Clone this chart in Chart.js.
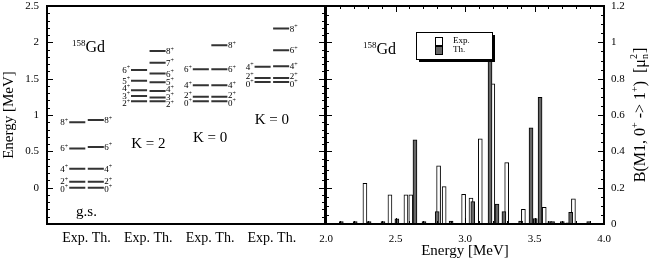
<!DOCTYPE html>
<html>
<head>
<meta charset="utf-8">
<script src="https://cdn.jsdelivr.net/npm/chart.js@4/dist/chart.umd.min.js"></script>
<style>
  html, body { margin: 0; padding: 0; background: #fff; }
  #wrap { position: relative; width: 651px; height: 260px; }
  canvas { position: absolute; top: 0; }
  #levels { left: 0; }
  #strength { left: 312px; }
</style>
</head>
<body>
<div id="wrap">
  <canvas id="levels" width="330" height="260"></canvas>
  <canvas id="strength" width="339" height="260"></canvas>
</div>
<script>
// 158Gd level scheme, energies in MeV
const bandLabels = ["g.s.", "K = 2", "K = 0", "K = 0"];
const gsSpins = [0, 2, 4, 6, 8];
const gsExp = [0, 0.08, 0.26, 0.54, 0.9];
const gsTh = [0, 0.08, 0.26, 0.56, 0.93];
const k2ExpSpins = [2, 3, 4, 5, 6];
const k2Exp = [1.19, 1.26, 1.34, 1.47, 1.62];
const k2ThSpins = [2, 3, 4, 5, 6, 7, 8];
const k2Th = [1.19, 1.24, 1.33, 1.45, 1.57, 1.72, 1.88];
const k0aExpSpins = [0, 2, 4, 6];
const k0aExp = [1.19, 1.25, 1.41, 1.63];
const k0aThSpins = [0, 2, 4, 6, 8];
const k0aTh = [1.19, 1.25, 1.41, 1.63, 1.96];
const k0bExpSpins = [0, 2, 4];
const k0bExp = [1.455, 1.51, 1.665];
const k0bThSpins = [0, 2, 4, 6, 8];
const k0bTh = [1.455, 1.51, 1.67, 1.89, 2.19];
const columnLabel = "Exp. Th.";

// M1 strength 0+ -> 1+, energy in MeV, B(M1) in mu_N^2
const expEnergy = [2.28, 2.46, 2.575, 2.61, 2.81, 2.85, 2.99, 3.043, 3.11, 3.20, 3.30, 3.42, 3.57, 3.78];
const expBM1 = [0.224, 0.16, 0.16, 0.16, 0.32, 0.206, 0.164, 0.142, 0.469, 0.772, 0.338, 0.081, 0.092, 0.138];
const thEnergy = [2.11, 2.21, 2.31, 2.41, 2.51, 2.64, 2.705, 2.80, 2.90, 3.056, 3.18, 3.23, 3.28, 3.40, 3.475, 3.505, 3.54, 3.61, 3.63, 3.70, 3.74, 3.76, 3.89];
const thBM1 = [0.013, 0.013, 0.013, 0.013, 0.028, 0.463, 0.013, 0.068, 0.016, 0.123, 1.018, 0.11, 0.068, 0.016, 0.53, 0.03, 0.697, 0.013, 0.013, 0.013, 0.006, 0.064, 0.013];

const bands = [
  { exp: gsExp, expSpins: gsSpins, th: gsTh, thSpins: gsSpins },
  { exp: k2Exp, expSpins: k2ExpSpins, th: k2Th, thSpins: k2ThSpins },
  { exp: k0aExp, expSpins: k0aExpSpins, th: k0aTh, thSpins: k0aThSpins },
  { exp: k0bExp, expSpins: k0bExpSpins, th: k0bTh, thSpins: k0bThSpins },
];

const SERIF = "'Liberation Serif', 'DejaVu Serif', serif";
const HALF = 0.28, GAP = 0.02; // level line span around each band centre

Chart.defaults.font.family = SERIF;
Chart.defaults.color = "#000";

// one line dataset, null points split it into separate levels
const levelPoints = [];
bands.forEach((b, i) => {
  b.exp.forEach(e => levelPoints.push({ x: i - HALF, y: e }, { x: i - GAP, y: e }, { x: i - GAP, y: null }));
  b.th.forEach(e => levelPoints.push({ x: i + GAP, y: e }, { x: i + HALF, y: e }, { x: i + HALF, y: null }));
});

// inward ticks on the frame + thick box
const frameTicks = {
  id: "frameTicks",
  afterDraw(chart, args, opts) {
    const { ctx, chartArea: a } = chart;
    ctx.save();
    ctx.strokeStyle = "#000";
    ctx.lineWidth = 1;
    for (const t of opts.axes) {
      const s = chart.scales[t.id];
      const n = Math.round((s.max - s.min) / t.minor);
      for (let i = 0; i <= n; i++) {
        const v = s.min + i * t.minor;
        const r = v / t.major;
        const len = Math.abs(r - Math.round(r)) < 1e-6 ? 6 : 3;
        const p = Math.round(s.getPixelForValue(v)) + 0.5;
        ctx.beginPath();
        if (s.isHorizontal()) {
          ctx.moveTo(p, a.bottom); ctx.lineTo(p, a.bottom - len);
          ctx.moveTo(p, a.top); ctx.lineTo(p, a.top + len);
        } else {
          ctx.moveTo(a.left, p); ctx.lineTo(a.left + len, p);
          ctx.moveTo(a.right, p); ctx.lineTo(a.right - len, p);
        }
        ctx.stroke();
      }
    }
    ctx.lineWidth = 2;
    ctx.strokeRect(a.left, a.top, a.right - a.left, a.bottom - a.top);
    ctx.restore();
  }
};

// text with superscript "+"
function spinWidth(ctx, spin) {
  ctx.font = "9px " + SERIF;
  const w1 = ctx.measureText(String(spin)).width;
  ctx.font = "6px " + SERIF;
  return w1 + ctx.measureText("+").width;
}
function drawSpin(ctx, spin, x, y) {
  ctx.textBaseline = "alphabetic";
  ctx.textAlign = "left";
  ctx.font = "9px " + SERIF;
  ctx.fillText(String(spin), x, y + 3);
  const w = ctx.measureText(String(spin)).width;
  ctx.font = "6px " + SERIF;
  ctx.fillText("+", x + w, y - 0.5);
}
function spread(ys, gap) {
  const p = ys.slice();
  for (let it = 0; it < 200; it++) {
    let moved = false;
    for (let i = 1; i < p.length; i++) {
      const d = p[i - 1] - p[i];
      if (d < gap - 0.01) { const s = (gap - d) / 2; p[i - 1] += s; p[i] -= s; moved = true; }
    }
    if (!moved) break;
  }
  return p;
}
function drawNucleus(ctx, x, y) {
  ctx.textAlign = "left";
  ctx.textBaseline = "alphabetic";
  ctx.font = "9px " + SERIF;
  ctx.fillText("158", x, y - 6);
  const w = ctx.measureText("158").width;
  ctx.font = "16px " + SERIF;
  ctx.fillText("Gd", x + w, y);
}

const levelText = {
  id: "levelText",
  afterDatasetsDraw(chart) {
    const { ctx, scales: { x, y } } = chart;
    ctx.save();
    ctx.fillStyle = "#000";
    bands.forEach((b, i) => {
      const ey = spread(b.exp.map(e => y.getPixelForValue(e)), 7.5);
      b.expSpins.forEach((s, k) => {
        const xe = x.getPixelForValue(i - HALF) - 1;
        drawSpin(ctx, s, xe - spinWidth(ctx, s), ey[k]);
      });
      const ty = spread(b.th.map(e => y.getPixelForValue(e)), 7.5);
      b.thSpins.forEach((s, k) => {
        drawSpin(ctx, s, x.getPixelForValue(i + HALF) + 0.5, ty[k]);
      });
    });
    // band names
    const nameE = [-0.33, 0.6, 0.68, 0.93];
    ctx.font = "15px " + SERIF;
    ctx.textAlign = "center";
    ctx.textBaseline = "middle";
    bandLabels.forEach((t, i) => ctx.fillText(t, x.getPixelForValue(i), y.getPixelForValue(nameE[i])));
    drawNucleus(ctx, chart.chartArea.left + 25, chart.chartArea.top + 46);
    ctx.restore();
  }
};

const noMargins = s => { s.paddingLeft = 0; s.paddingRight = 0; s.paddingTop = 0; s.paddingBottom = 0; };

new Chart(document.getElementById("levels"), {
  type: "line",
  data: {
    datasets: [{
      data: levelPoints,
      borderColor: "#333",
      borderWidth: 2,
      pointRadius: 0,
      spanGaps: false,
      tension: 0,
    }],
  },
  options: {
    responsive: false,
    animation: false,
    layout: { padding: { top: 6, right: 5, left: 0, bottom: 0 } },
    plugins: {
      legend: { display: false },
      tooltip: { enabled: false },
      frameTicks: { axes: [{ id: "y", minor: 0.1, major: 0.5 }] },
    },
    scales: {
      x: {
        type: "linear",
        min: -0.64,
        max: 3.86,
        grid: { display: false, drawTicks: false },
        border: { display: false },
        afterBuildTicks: s => { s.ticks = bandLabels.map((_, i) => ({ value: i })); },
        afterFit: s => { s.height = 36; noMargins(s); },
        ticks: { padding: 6, maxRotation: 0, font: { size: 14 }, callback: () => columnLabel },
      },
      y: {
        min: -0.5,
        max: 2.5,
        grid: { display: false, drawTicks: false },
        border: { display: false },
        afterFit: s => { s.width = 47; noMargins(s); },
        ticks: { stepSize: 0.5, padding: 8, font: { size: 11 }, callback: v => (v < 0 ? "" : String(v)) },
        title: { display: true, text: "Energy [MeV]", font: { size: 15 }, padding: 0 },
      },
    },
  },
  plugins: [frameTicks, levelText],
});

// legend box with shadow, nucleus label, right axis title
const strengthText = {
  id: "strengthText",
  afterDraw(chart) {
    const { ctx, chartArea: a } = chart;
    ctx.save();
    const bx = a.left + 90, by = a.top + 26, bw = 76, bh = 27;
    ctx.fillStyle = "#000";
    ctx.fillRect(bx + 3, by + 3, bw, bh);
    ctx.fillStyle = "#fff";
    ctx.fillRect(bx, by, bw, bh);
    ctx.lineWidth = 1;
    ctx.strokeStyle = "#000";
    ctx.strokeRect(bx + 0.5, by + 0.5, bw, bh);
    const items = [["Exp.", "#fff"], ["Th.", "#666"]];
    items.forEach(([t, c], k) => {
      const sy = by + 5 + k * 9;
      ctx.fillStyle = c;
      ctx.fillRect(bx + 19, sy, 7, 8);
      ctx.strokeRect(bx + 19.5, sy + 0.5, 7, 8);
      ctx.fillStyle = "#000";
      ctx.font = "9px " + SERIF;
      ctx.textAlign = "left";
      ctx.textBaseline = "middle";
      ctx.fillText(t, bx + 37, sy + 4);
    });
    drawNucleus(ctx, a.left + 37, a.top + 48);

    // rotated title B(M1, 0+ -> 1+)  [mu_n^2]
    ctx.translate(chart.width - 10, (a.top + a.bottom) / 2);
    ctx.rotate(-Math.PI / 2);
    const big = "16px " + SERIF, small = "10px " + SERIF;
    const parts = [
      ["B(M1, 0", big, 0], ["+", small, -6], [" -> 1", big, 0], ["+", small, -6],
      [")  [\u03bc", big, 0], ["n|2", small, 0], ["]", big, 0],
    ];
    let total = 0;
    for (const [t, f] of parts) {
      ctx.font = f;
      total += t === "n|2" ? ctx.measureText("n").width + 1 : ctx.measureText(t).width;
    }
    let px = -total / 2;
    ctx.textAlign = "left";
    ctx.textBaseline = "middle";
    for (const [t, f, dy] of parts) {
      ctx.font = f;
      if (t === "n|2") {
        ctx.fillText("n", px, 4);
        ctx.fillText("2", px, -7);
        px += ctx.measureText("n").width + 1;
      } else {
        ctx.fillText(t, px, dy);
        px += ctx.measureText(t).width;
      }
    }
    ctx.restore();
  }
};

new Chart(document.getElementById("strength"), {
  type: "bar",
  data: {
    datasets: [
      {
        label: "Th.",
        data: thEnergy.map((e, i) => ({ x: e, y: thBM1[i] })),
        backgroundColor: "#666",
        borderColor: "#000",
        borderWidth: 1,
      },
      {
        label: "Exp.",
        data: expEnergy.map((e, i) => ({ x: e, y: expBM1[i] })),
        backgroundColor: "#fff",
        borderColor: "#000",
        borderWidth: 1,
      },
    ],
  },
  options: {
    responsive: false,
    animation: false,
    grouped: false,
    barThickness: 4,
    layout: { padding: { top: 6, left: 14, right: 0, bottom: 0 } },
    plugins: {
      legend: { display: false },
      tooltip: { enabled: false },
      frameTicks: { axes: [{ id: "x", minor: 0.1, major: 0.5 }, { id: "y", minor: 0.05, major: 0.2 }] },
    },
    scales: {
      x: {
        type: "linear",
        min: 2,
        max: 4,
        offset: false,
        grid: { display: false, drawTicks: false },
        border: { display: false },
        afterFit: s => { s.height = 36; noMargins(s); },
        ticks: { stepSize: 0.5, padding: 9, maxRotation: 0, font: { size: 11 }, callback: v => v.toFixed(1) },
        title: { display: true, text: "Energy [MeV]", font: { size: 15 }, padding: 0 },
      },
      y: {
        position: "right",
        min: 0,
        max: 1.2,
        grid: { display: false, drawTicks: false },
        border: { display: false },
        afterFit: s => { s.width = 47; noMargins(s); },
        ticks: { stepSize: 0.2, padding: 7, font: { size: 11 }, callback: v => String(+v.toFixed(2)) },
      },
    },
  },
  plugins: [frameTicks, strengthText],
});
</script>
</body>
</html>
